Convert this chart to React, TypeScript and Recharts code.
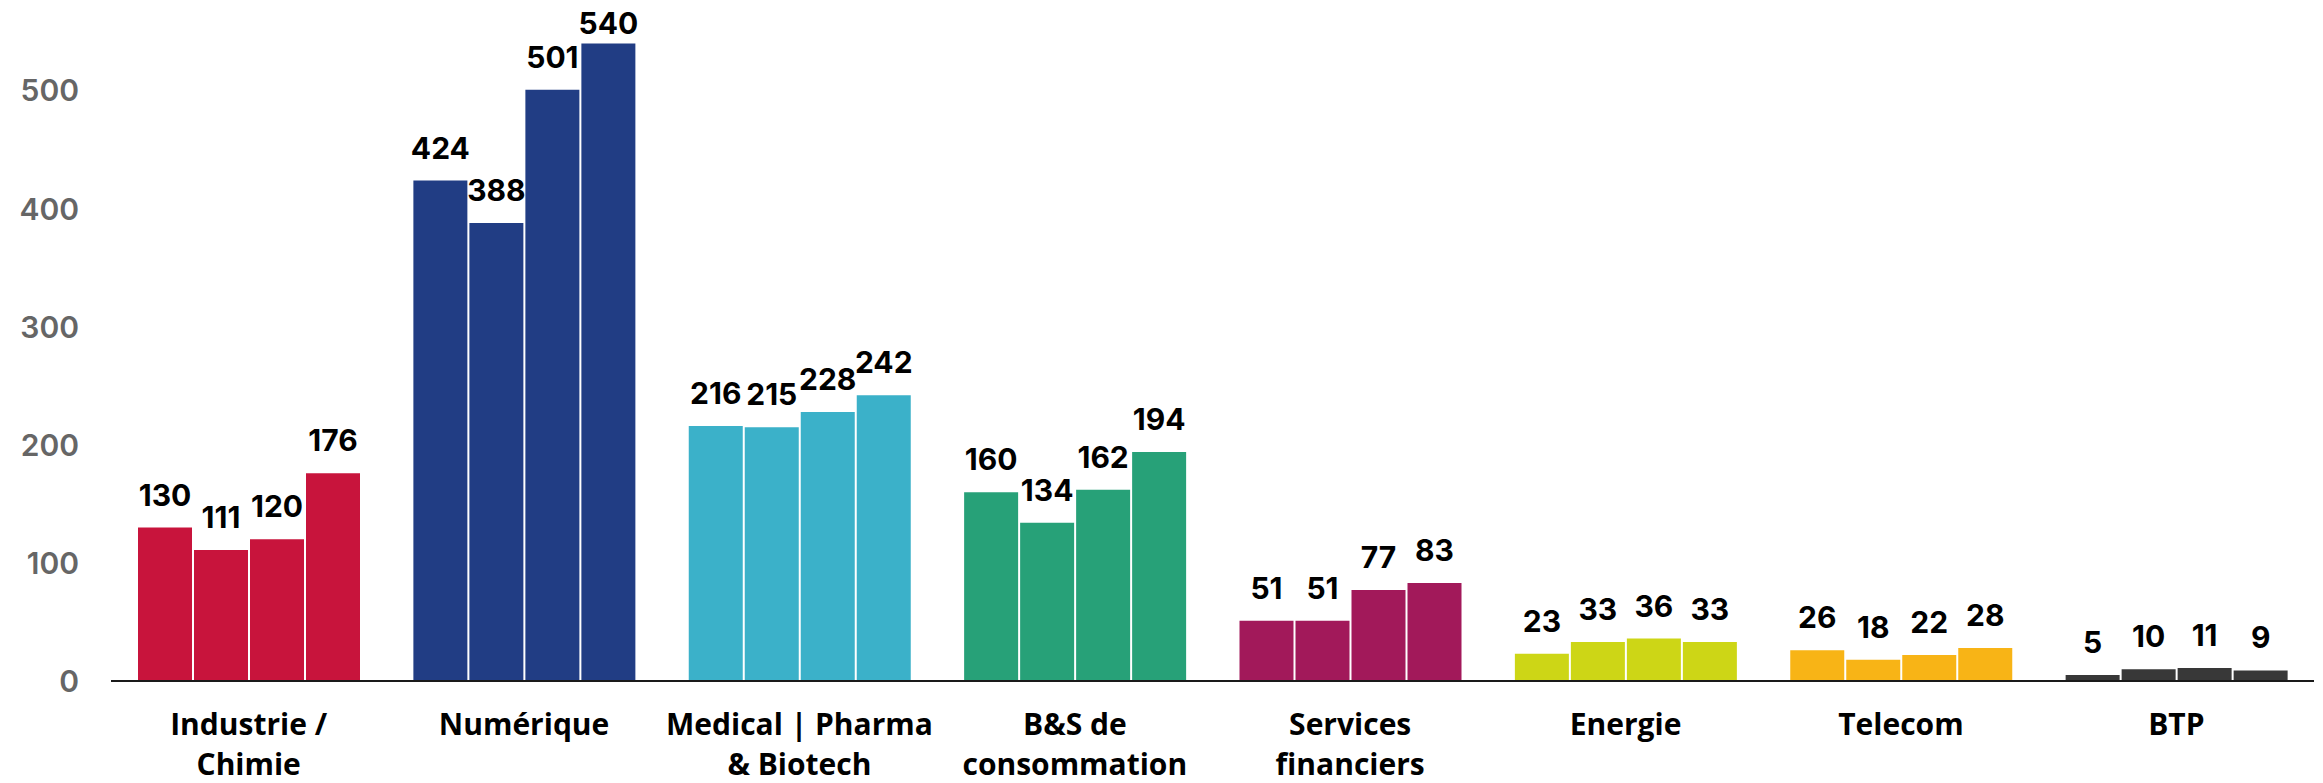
import React from "react";
import { BarChart, Bar, XAxis, YAxis, Cell, LabelList } from "recharts";

const categories = [
  "Industrie /\nChimie",
  "Numérique",
  "Medical | Pharma\n& Biotech",
  "B&S de\nconsommation",
  "Services\nfinanciers",
  "Energie",
  "Telecom",
  "BTP",
];
const series1 = [130, 424, 216, 160, 51, 23, 26, 5];
const series2 = [111, 388, 215, 134, 51, 33, 18, 10];
const series3 = [120, 501, 228, 162, 77, 36, 22, 11];
const series4 = [176, 540, 242, 194, 83, 33, 28, 9];
const categoryColors = [
  "#C8143C",
  "#213D84",
  "#3BB1C9",
  "#27A178",
  "#A2195A",
  "#CDD616",
  "#F8B416",
  "#383838",
];
const yTicks = [0, 100, 200, 300, 400, 500];

const data = categories.map((c, i) => ({
  name: c,
  s1: series1[i],
  s2: series2[i],
  s3: series3[i],
  s4: series4[i],
}));

const FONT = "'Open Sans', 'Noto Sans', sans-serif";
const NUM_FONT = "Inter, 'Open Sans', sans-serif";

const CatTick = (props: any) => {
  const { x, y, payload } = props;
  const lines = String(payload.value).split("\n");
  return (
    <text
      x={x}
      y={y}
      textAnchor="middle"
      fontFamily={FONT}
      fontWeight={700}
      fontSize={30}
      fill="#000"
    >
      {lines.map((l, i) => (
        <tspan key={i} x={x} dy={i === 0 ? 54 : 40}>
          {l}
        </tspan>
      ))}
    </text>
  );
};

const ValueLabel = (props: any) => {
  const { x, y, width, value } = props;
  const baseline = Math.max(Number(y) - 22, 34);
  return (
    <text
      x={Number(x) + Number(width) / 2}
      y={baseline}
      textAnchor="middle"
      fontFamily={NUM_FONT}
      fontWeight={700}
      fontSize={30}
      fill="#000"
    >
      {value}
    </text>
  );
};

const keys = ["s1", "s2", "s3", "s4"];

export default function App() {
  return (
    <div style={{ position: "absolute", top: 0, left: 0 }}>
      <BarChart
        width={2323}
        height={783}
        data={data}
        margin={{ top: 20, right: 9, bottom: 12, left: 8 }}
        barCategoryGap={27}
        barGap={2}
      >
        <XAxis
          dataKey="name"
          interval={0}
          tickLine={false}
          tickSize={0}
          tickMargin={0}
          height={90}
          axisLine={{ stroke: "#1a1a1a", strokeWidth: 2 }}
          tick={<CatTick />}
        />
        <YAxis
          domain={[0, 560]}
          ticks={yTicks}
          width={103}
          axisLine={false}
          tickLine={false}
          tickSize={0}
          tickMargin={32}
          tick={{
            fill: "#666666",
            fontFamily: NUM_FONT,
            fontWeight: 600,
            fontSize: 30,
          }}
        />
        {keys.map((k) => (
          <Bar key={k} dataKey={k} isAnimationActive={false}>
            {data.map((_, i) => (
              <Cell key={i} fill={categoryColors[i]} />
            ))}
            <LabelList dataKey={k} content={<ValueLabel />} />
          </Bar>
        ))}
      </BarChart>
    </div>
  );
}
